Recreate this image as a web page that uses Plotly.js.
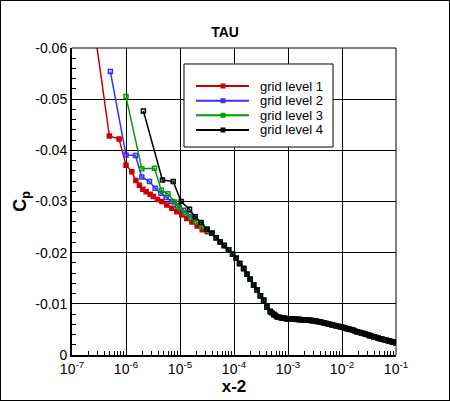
<!DOCTYPE html>
<html><head><meta charset="utf-8">
<script src="https://cdn.plot.ly/plotly-3.0.1.min.js"></script>
<style>html,body{margin:0;padding:0;background:#fff;}#plot{width:448px;height:399px;border:1px solid #000;}</style>
</head><body><div id="plot"></div>
<script>
// ---- data ----
const seriesNames = ['grid level 1', 'grid level 2', 'grid level 3', 'grid level 4'];

const redX  = [2.45e-7, 4.92e-7, 7.45e-7, 1.0e-6, 1.28e-6, 1.52e-6, 1.77e-6, 2.05e-6, 2.36e-6, 2.80e-6, 3.22e-6, 3.83e-6, 4.62e-6, 5.71e-6, 7.08e-6, 8.75e-6, 1.08e-5, 1.34e-5, 1.66e-5, 2.08e-5, 2.58e-5, 3.2e-5];
const redCp = [-0.0657, -0.0428, -0.0422, -0.0371, -0.0358, -0.0341, -0.0332, -0.0324, -0.0319, -0.0314, -0.0310, -0.0304, -0.0300, -0.0293, -0.0287, -0.0280, -0.0274, -0.0267, -0.0260, -0.0252, -0.0245, -0.0241];

const blueX  = [5.14e-7, 1.0e-6, 1.5e-6, 1.96e-6, 2.72e-6, 3.47e-6, 4.42e-6, 5.55e-6, 7.08e-6, 9.0e-6, 1.16e-5, 1.48e-5, 1.91e-5, 2.47e-5, 3.2e-5];
const blueCp = [-0.0554, -0.0391, -0.0390, -0.0348, -0.0339, -0.0326, -0.0316, -0.0308, -0.0300, -0.0291, -0.0283, -0.0275, -0.0267, -0.0258, -0.0246];

const greenX  = [1.0e-6, 1.96e-6, 3.37e-6, 4.5e-6, 5.97e-6, 7.87e-6, 9.8e-6, 1.25e-5, 1.58e-5, 2.0e-5, 2.53e-5, 3.2e-5];
const greenCp = [-0.0505, -0.0364, -0.0365, -0.0322, -0.0315, -0.0299, -0.0288, -0.0278, -0.0269, -0.0260, -0.0251, -0.0244];

const blackX  = [2.1e-6, 4.73e-6, 7.48e-6, 1.05e-5, 1.5e-5, 1.91e-5, 2.44e-5, 3.15e-5];
const blackCp = [-0.0477, -0.0342, -0.0339, -0.0300, -0.0285, -0.0270, -0.0259, -0.0246];

// common part where all grid levels coincide
const tailX  = [3.91e-5, 4.70e-5, 5.57e-5, 6.61e-5, 7.94e-5, 9.42e-5, 1.10e-4, 1.27e-4, 1.51e-4, 1.74e-4, 2.0e-4, 2.31e-4, 2.67e-4, 3.08e-4, 3.54e-4, 4.09e-4, 4.71e-4, 5.47e-4, 6.35e-4, 7.54e-4, 8.53e-4, 9.62e-4, 1.13e-3, 1.37e-3, 1.63e-3, 1.93e-3, 2.26e-3, 2.72e-3, 3.22e-3, 3.83e-3, 4.59e-3, 5.50e-3, 6.52e-3, 7.80e-3, 9.37e-3, 1.11e-2, 1.32e-2, 1.58e-2, 1.91e-2, 2.30e-2, 2.73e-2, 3.24e-2, 3.89e-2, 4.66e-2, 5.52e-2, 6.55e-2, 7.6e-2, 8.65e-2, 0.1];
const tailCp = [-0.0238, -0.0229, -0.0221, -0.0214, -0.0205, -0.0197, -0.0189, -0.0179, -0.0169, -0.0158, -0.0148, -0.0137, -0.0127, -0.0116, -0.0107, -0.0094, -0.0085, -0.0079, -0.0075, -0.0073, -0.0072, -0.0071, -0.00705, -0.0070, -0.00692, -0.00688, -0.00684, -0.00674, -0.00664, -0.00649, -0.00631, -0.00612, -0.00592, -0.00573, -0.00553, -0.0053, -0.00508, -0.00483, -0.00455, -0.0043, -0.00406, -0.00383, -0.00358, -0.00332, -0.00309, -0.00289, -0.0027, -0.00254, -0.0024];

// extra grid-level-4 points where its markers merge into a solid band
const blackDenseX  = [5.08e-4, 5.89e-4, 6.92e-4, 8.02e-4, 9.06e-4, 1.04e-3, 1.24e-3, 1.49e-3, 1.77e-3, 2.09e-3, 2.48e-3, 2.96e-3, 3.51e-3, 4.19e-3, 5.02e-3, 5.99e-3, 7.13e-3, 8.55e-3, 1.02e-2, 1.21e-2, 1.44e-2, 1.74e-2, 2.10e-2, 2.51e-2, 2.97e-2, 3.55e-2, 4.26e-2, 5.07e-2, 6.01e-2, 7.06e-2, 8.11e-2, 9.3e-2];
const blackDenseCp = [-0.0082, -0.0077, -0.0074, -0.00725, -0.00715, -0.00708, -0.00702, -0.00696, -0.0069, -0.00686, -0.00679, -0.00669, -0.00657, -0.0064, -0.00622, -0.00602, -0.00583, -0.00563, -0.00542, -0.00519, -0.00496, -0.00469, -0.00443, -0.00418, -0.00395, -0.0037, -0.00345, -0.0032, -0.00299, -0.0028, -0.00262, -0.00247];

const xTickVals = [1e-7, 1e-6, 1e-5, 1e-4, 1e-3, 1e-2, 1e-1];
const xTickText = ['10<sup>-7</sup>', '10<sup>-6</sup>', '10<sup>-5</sup>', '10<sup>-4</sup>', '10<sup>-3</sup>', '10<sup>-2</sup>', '10<sup>-1</sup>'];
const yTickVals = [0, -0.01, -0.02, -0.03, -0.04, -0.05, -0.06];
const yTickText = ['0', '-0.01', '-0.02', '-0.03', '-0.04', '-0.05', '-0.06'];

// ---- styles ----
const FONT = 'Liberation Sans, Arial, Helvetica, sans-serif';
const colors = ['#cc0000', '#3333ff', '#00a000', '#000000'];
const symbols = ['square', 'square-open', 'square-open', 'square-open'];

function joinSorted(xa, ya) {
  const pts = xa.map((v, k) => [v, ya[k]]).sort((a, b) => a[0] - b[0]);
  return {x: pts.map(p => p[0]), y: pts.map(p => p[1])};
}
const seriesData = [
  joinSorted(redX.concat(tailX), redCp.concat(tailCp)),
  joinSorted(blueX.concat(tailX), blueCp.concat(tailCp)),
  joinSorted(greenX.concat(tailX), greenCp.concat(tailCp)),
  joinSorted(blackX.concat(tailX, blackDenseX), blackCp.concat(tailCp, blackDenseCp))
];

const traces = seriesData.map((d, i) => ({
  type: 'scatter', mode: 'lines+markers', name: seriesNames[i], showlegend: false,
  x: d.x, y: d.y,
  line: {color: colors[i], width: 1.5},
  marker: {symbol: symbols[i], size: 4, color: colors[i], line: {color: colors[i], width: 1.5}}
}));

// legend box drawn as layout shapes + annotations (paper coordinates)
const legBox = {x0: 0.3457, x1: 0.8056, y0: 0.6775, y1: 0.9479};
const legRowY = [0.8762, 0.8283, 0.7808, 0.7329];
const legLine = {x0: 0.3827, x1: 0.5463, mx: 0.4660, tx: 0.5741};

const shapes = [
  {type: 'line', xref: 'paper', yref: 'paper', x0: 0, x1: 1, y0: 1, y1: 1, line: {color: '#000', width: 1}},
  {type: 'line', xref: 'paper', yref: 'paper', x0: 1, x1: 1, y0: 0, y1: 1, line: {color: '#000', width: 1}},
  {type: 'rect', xref: 'paper', yref: 'paper', x0: legBox.x0, x1: legBox.x1, y0: legBox.y0, y1: legBox.y1,
   fillcolor: '#fff', line: {color: '#000', width: 1}, layer: 'above'}
];
const annotations = [];
seriesNames.forEach((nm, i) => {
  shapes.push({type: 'line', xref: 'paper', yref: 'paper', x0: legLine.x0, x1: legLine.x1, y0: legRowY[i], y1: legRowY[i],
               line: {color: colors[i], width: 2}});
  shapes.push({type: 'rect', xref: 'paper', yref: 'paper', xsizemode: 'pixel', ysizemode: 'pixel',
               xanchor: legLine.mx, yanchor: legRowY[i], x0: -2.5, x1: 2.5, y0: -2.5, y1: 2.5,
               fillcolor: colors[i], line: {color: colors[i], width: 0}});
  annotations.push({xref: 'paper', yref: 'paper', x: legLine.tx, y: legRowY[i], xanchor: 'left', yanchor: 'middle',
                    text: nm, showarrow: false, font: {family: FONT, size: 13, color: '#000'}});
});

const layout = {
  width: 448, height: 399,
  margin: {l: 71, r: 53, t: 47, b: 45},
  paper_bgcolor: '#fff', plot_bgcolor: '#fff',
  font: {family: FONT, color: '#000'},
  title: {text: '<b>TAU</b>', font: {family: FONT, size: 14, color: '#000'},
          x: 0.5, xref: 'container', xanchor: 'center', y: 0.923, yref: 'container', yanchor: 'middle'},
  showlegend: false,
  xaxis: {
    type: 'log', range: [-7, -1], tickmode: 'array', tickvals: xTickVals, ticktext: xTickText,
    ticks: 'inside', ticklen: 6, tickwidth: 1, tickcolor: '#000',
    showgrid: true, gridcolor: '#000', gridwidth: 1,
    showline: true, linewidth: 2, linecolor: '#000', zeroline: false,
    minor: {ticks: 'inside', ticklen: 4, tickwidth: 1, tickcolor: '#000', dtick: 'D1', showgrid: false},
    tickfont: {family: FONT, size: 14, color: '#000'},
    title: {text: '<b>x-2</b>', font: {family: FONT, size: 17, color: '#000'}, standoff: 4}
  },
  yaxis: {
    range: [0, -0.06], tickmode: 'array', tickvals: yTickVals, ticktext: yTickText,
    ticks: 'inside', ticklen: 6, tickwidth: 1, tickcolor: '#000',
    showgrid: true, gridcolor: '#000', gridwidth: 1,
    showline: true, linewidth: 2, linecolor: '#000', zeroline: false,
    minor: {ticks: 'inside', ticklen: 4, tickwidth: 1, tickcolor: '#000', dtick: 0.002, showgrid: false},
    tickfont: {family: FONT, size: 14, color: '#000'},
    title: {text: '<b>C<sub>p</sub></b>', font: {family: FONT, size: 18, color: '#000'}, standoff: 4}
  },
  shapes: shapes,
  annotations: annotations
};

Plotly.newPlot('plot', traces, layout, {displayModeBar: false, staticPlot: true});
</script></body></html>
